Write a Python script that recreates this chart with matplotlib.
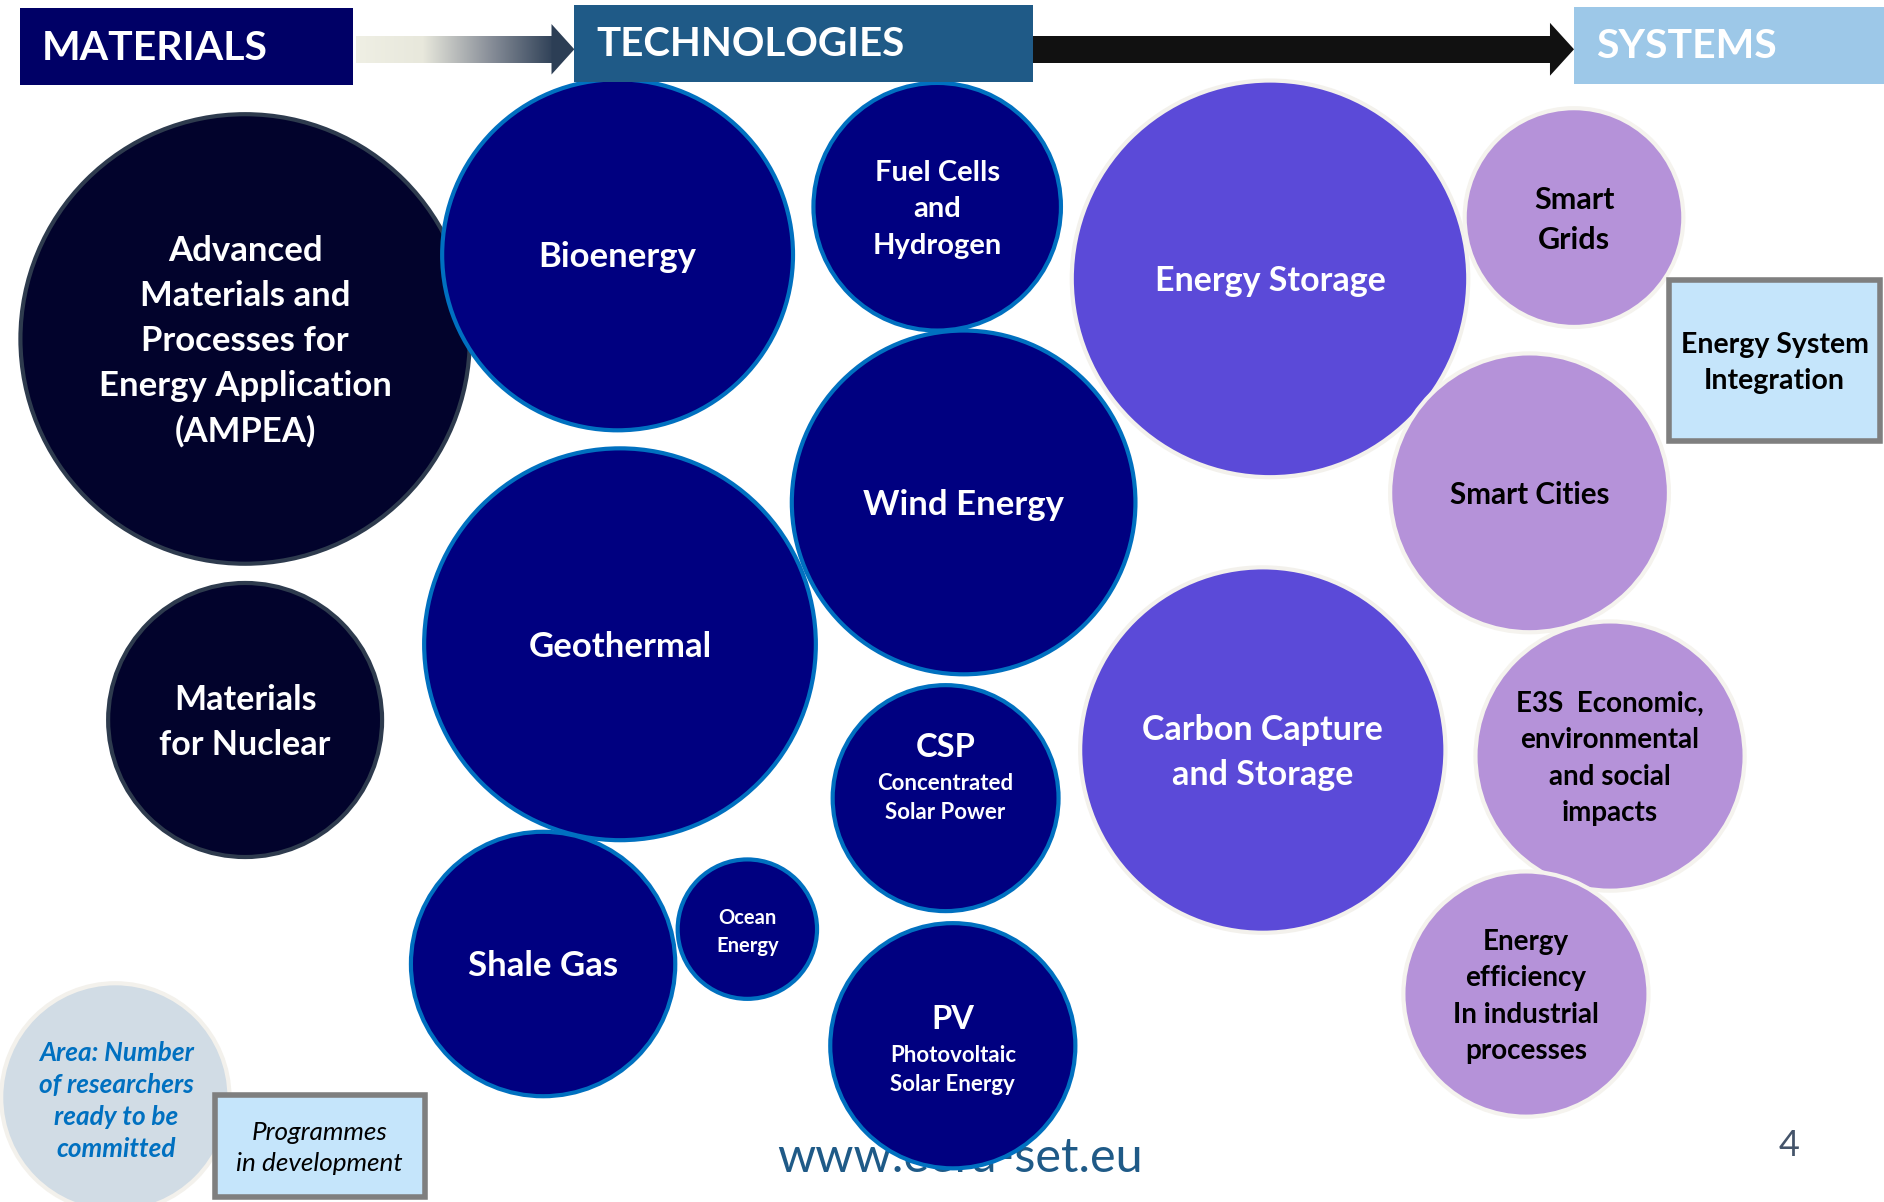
import matplotlib
matplotlib.use('Agg')
import matplotlib.pyplot as plt
from matplotlib.patches import Circle, Rectangle, Polygon
import numpy as np

plt.rcParams['font.family'] = ['Lato', 'DejaVu Sans']

# bubbles: label lines, centre (x,y in slide px), radius, group
names = ['Advanced\nMaterials and\nProcesses for\nEnergy Application\n(AMPEA)', 'Materials\nfor Nuclear',
         'Bioenergy', 'Fuel Cells\nand\nHydrogen', 'Wind Energy', 'Geothermal', 'CSP', 'Shale Gas', 'Ocean\nEnergy', 'PV',
         'Energy Storage', 'Carbon Capture\nand Storage',
         'Smart\nGrids', 'Smart Cities', 'E3S  Economic,\nenvironmental\nand social\nimpacts', 'Energy\nefficiency\nIn industrial\nprocesses']
subtitles = ['', '', '', '', '', '', 'Concentrated\nSolar Power', '', '', 'Photovoltaic\nSolar Energy', '', '', '', '', '', '']
cx = [204, 204, 514, 780, 802, 516, 787, 452, 622, 793, 1057, 1051, 1310, 1273, 1340, 1270]
cy = [282, 599, 212, 172, 418, 536, 664, 802, 773, 870, 232, 624, 181, 410, 629, 827]
radius = [187, 114, 146, 103, 143, 163, 94, 110, 58, 102, 165, 152, 91, 116, 112, 102]
group = ['mat', 'mat', 'tech', 'tech', 'tech', 'tech', 'tech', 'tech', 'tech', 'tech', 'big', 'big', 'sys', 'sys', 'sys', 'sys']
fsize = [25, 24.5, 25, 21, 25, 25, 23.5, 25, 14.5, 23.5, 24.5, 24.5, 22, 21.3, 20, 20]
# vertical offsets of title / subtitle for the two-part labels
title_dy = [0, 0, 0, 0, 0, 0, -42, 0, 0, -22, 0, 0, 0, 0, 0, 0]
sub_dy = [0, 0, 0, 0, 0, 0, 0, 0, 0, 20, 0, 0, 0, 0, 0, 0]

headers = ['MATERIALS', 'TECHNOLOGIES', 'SYSTEMS']

style = {'mat': ('#02032c', '#2e3b4e', 'white'),
         'tech': ('#000080', '#0070c0', 'white'),
         'big': ('#5b4ad8', '#f3f1ec', 'white'),
         'sys': ('#b592d9', '#f5f3ee', 'black')}

fig = plt.figure(figsize=(18.84, 12.02), dpi=100)
ax = fig.add_axes([0, 0, 1, 1])
ax.set_xlim(0, 1568); ax.set_ylim(1000, 0); ax.axis('off')

# header boxes
ax.add_patch(Rectangle((17, 7), 277, 64, fc='#000066', ec='none'))
ax.add_patch(Rectangle((478, 4), 382, 64, fc='#1f5a87', ec='none', zorder=3))
ax.add_patch(Rectangle((1310, 6), 258, 64, fc='#9dc8e8', ec='none', zorder=3))
# gradient arrow materials -> technologies
grad = np.linspace(0, 1, 256)[None, :]
cmap = matplotlib.colors.LinearSegmentedColormap.from_list('g', ['#efefe4', '#e8e8dc', '#8a909a', '#2c3e55'])
ax.imshow(grad, cmap=cmap, extent=(296, 462, 52, 30), aspect='auto', zorder=1)
ax.add_patch(Polygon([(459, 20), (478, 41), (459, 62)], fc='#2c3e55', ec='none', zorder=1))
# black arrow technologies -> systems
ax.add_patch(Rectangle((860, 30), 432, 22, fc='#111111', ec='none', zorder=1))
ax.add_patch(Polygon([(1290, 19), (1310, 41), (1290, 63)], fc='#111111', ec='none', zorder=1))
ax.text(35, 40, headers[0], color='white', fontsize=29.5, fontweight='bold', va='center', ha='left', zorder=4)
ax.text(496, 37, headers[1], color='white', fontsize=29, fontweight='bold', va='center', ha='left', zorder=4)
ax.text(1328, 39, headers[2], color='white', fontsize=29.5, fontweight='bold', va='center', ha='left', zorder=4)

# footer
ax.text(799, 963, 'www.eera-set.eu', color='#1f5a87', fontsize=35, ha='center', va='center', zorder=1)
ax.text(1489, 953, '4', color='#44546a', fontsize=26, ha='center', va='center')

for i in range(len(names)):
    fc, ec, tc = style[group[i]]
    ax.add_patch(Circle((cx[i], cy[i]), radius[i], fc=fc, ec=ec, lw=3, zorder=2 + i * 0.01))
    if subtitles[i]:
        ax.text(cx[i], cy[i] + title_dy[i], names[i], color=tc, fontsize=fsize[i], fontweight='bold',
                ha='center', va='center', zorder=3)
        ax.text(cx[i], cy[i] + sub_dy[i], subtitles[i], color=tc, fontsize=16, fontweight='bold',
                ha='center', va='center', linespacing=1.48, zorder=3)
    else:
        ax.text(cx[i], cy[i] + 2, names[i], color=tc, fontsize=fsize[i], fontweight='bold',
                ha='center', va='center', linespacing=1.5, zorder=3)

# Energy System Integration box
ax.add_patch(Rectangle((1389, 233), 176, 134, fc='#c5e5fb', ec='#7f7f7f', lw=4, zorder=3))
ax.text(1477, 302, 'Energy System\nIntegration', fontsize=20.5, fontweight='bold', ha='center', va='center',
        linespacing=1.48, zorder=4)

# legend
ax.add_patch(Circle((96, 913), 95, fc='#d1dce5', ec='#f3f1ec', lw=3, zorder=2))
ax.text(97, 916, 'Area: Number\nof researchers\nready to be\ncommitted', color='#0070c0', fontsize=18.8,
        fontweight='bold', style='italic', ha='center', va='center', linespacing=1.4, zorder=3)
ax.add_patch(Rectangle((179, 911), 175, 85, fc='#c5e5fb', ec='#7f7f7f', lw=4, zorder=3))
ax.text(266, 955, 'Programmes\nin development', fontsize=18.8, style='italic', ha='center', va='center',
        linespacing=1.42, zorder=4)

fig.savefig('out.png', dpi=100)
